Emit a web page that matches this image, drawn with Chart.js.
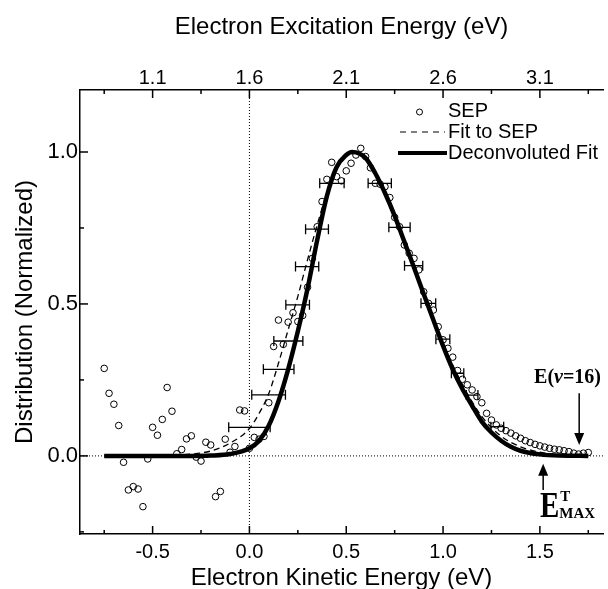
<!DOCTYPE html>
<html>
<head>
<meta charset="utf-8">
<script src="https://cdn.jsdelivr.net/npm/chart.js@4.4.1/dist/chart.umd.min.js"></script>
<style>
  html, body { margin: 0; padding: 0; background: #fff; }
  canvas { display: block; }
</style>
</head>
<body>
<canvas id="chart" width="608" height="589"></canvas>
<script>
// SEP data (kinetic energy in eV, normalized distribution)
const sepX = [-0.750, -0.725, -0.700, -0.675, -0.650, -0.625, -0.600, -0.575, -0.550, -0.525,
  -0.500, -0.475, -0.450, -0.425, -0.400, -0.375, -0.350, -0.325, -0.300, -0.275,
  -0.250, -0.225, -0.200, -0.175, -0.150, -0.125, -0.100, -0.075, -0.050, -0.025,
  0.000, 0.025, 0.050, 0.075, 0.100, 0.125, 0.150, 0.175, 0.200, 0.225,
  0.250, 0.275, 0.300, 0.325, 0.350, 0.375, 0.400, 0.425, 0.450, 0.475,
  0.500, 0.525, 0.550, 0.575, 0.600, 0.625, 0.650, 0.675, 0.700, 0.725,
  0.750, 0.775, 0.800, 0.825, 0.850, 0.875, 0.900, 0.925, 0.950, 0.975,
  1.000, 1.025, 1.050, 1.075, 1.100, 1.125, 1.150, 1.175, 1.200, 1.225,
  1.250, 1.275, 1.300, 1.325, 1.350, 1.375, 1.400, 1.425, 1.450, 1.475,
  1.500, 1.525, 1.550, 1.575, 1.600, 1.625, 1.650, 1.675, 1.700, 1.725, 1.750];
const sepY = [0.288, 0.206, 0.170, 0.100, -0.021, -0.112, -0.101, -0.109, -0.167, -0.010,
  0.094, 0.068, 0.120, 0.225, 0.147, 0.007, 0.021, 0.056, 0.066, -0.004,
  -0.017, 0.045, 0.036, -0.134, -0.117, 0.055, 0.012, 0.031, 0.151, 0.148,
  0.025, 0.061, 0.055, 0.064, 0.175, 0.360, 0.447, 0.367, 0.440, 0.471,
  0.442, 0.462, 0.555, 0.650, 0.754, 0.837, 0.910, 0.966, 0.919, 0.905,
  0.938, 0.963, 0.990, 1.012, 0.985, 0.948, 0.897, 0.894, 0.886, 0.850,
  0.785, 0.754, 0.694, 0.667, 0.650, 0.612, 0.540, 0.502, 0.480, 0.425,
  0.382, 0.354, 0.325, 0.281, 0.252, 0.234, 0.217, 0.195, 0.175, 0.140,
  0.118, 0.102, 0.091, 0.083, 0.075, 0.066, 0.058, 0.050, 0.044, 0.038,
  0.033, 0.029, 0.025, 0.022, 0.020, 0.017, 0.014, 0.009, 0.006, 0.009, 0.011];

// fit to SEP (dashed)
const fitX = [-0.75, -0.40, -0.30, -0.20, -0.10, 0.00, 0.05, 0.10, 0.15, 0.20, 0.25, 0.30, 0.35,
  0.40, 0.45, 0.50, 0.53, 0.60, 0.70, 0.80, 0.90, 1.00, 1.10, 1.20, 1.30, 1.40, 1.50, 1.60, 1.75];
const fitY = [0.000, 0.002, 0.006, 0.016, 0.042, 0.090, 0.140, 0.205, 0.305, 0.415, 0.525, 0.645, 0.760,
  0.865, 0.945, 0.990, 1.000, 0.980, 0.870, 0.710, 0.540, 0.370, 0.235, 0.130, 0.065, 0.030, 0.012, 0.004, 0.000];

// deconvoluted fit (thick)
const decX = [-0.75, -0.50, -0.30, -0.20, -0.10, 0.00, 0.05, 0.10, 0.15, 0.20, 0.25, 0.30, 0.35,
  0.40, 0.45, 0.50, 0.53, 0.60, 0.65, 0.70, 0.75, 0.80, 0.85, 0.90, 0.95, 1.00, 1.05, 1.10,
  1.15, 1.20, 1.25, 1.30, 1.35, 1.40, 1.50, 1.60, 1.75];
const decY = [0.000, 0.000, 0.000, 0.001, 0.006, 0.025, 0.050, 0.100, 0.180, 0.285, 0.410, 0.550, 0.710,
  0.855, 0.950, 0.990, 1.000, 0.980, 0.930, 0.865, 0.790, 0.705, 0.620, 0.533, 0.447, 0.362, 0.285, 0.220,
  0.165, 0.113, 0.077, 0.050, 0.030, 0.017, 0.005, 0.001, 0.000];

// horizontal error bars: centre x, y, half width (eV)
const errX = [0.000, 0.099, 0.151, 0.201, 0.249, 0.298, 0.349, 0.426, 0.673, 0.775, 0.848, 0.924, 0.999, 1.075, 1.150, 1.280];
const errY = [0.094, 0.201, 0.285, 0.378, 0.497, 0.623, 0.746, 0.897, 0.897, 0.752, 0.626, 0.502, 0.384, 0.272, 0.200, 0.096];
const errW = [0.107, 0.087, 0.079, 0.075, 0.061, 0.060, 0.059, 0.063, 0.060, 0.055, 0.047, 0.038, 0.036, 0.032, 0.030, 0.033];

// axis ticks
const xTicks = [-0.75, -0.5, -0.25, 0, 0.25, 0.5, 0.75, 1.0, 1.25, 1.5, 1.75];
const xLabels = [-0.5, 0, 0.5, 1.0, 1.5];
const topTicks = [0.85, 1.1, 1.35, 1.6, 1.85, 2.1, 2.35, 2.6, 2.85, 3.1, 3.35];
const topLabels = [1.1, 1.6, 2.1, 2.6, 3.1];
const yTicks = [-0.25, 0, 0.25, 0.5, 0.75, 1.0];
const yLabels = [0, 0.5, 1.0];

const X_MIN = -0.875, X_MAX = 1.826, Y_MIN = -0.257, Y_MAX = 1.204;
const OFFSET = 1.6; // excitation = kinetic + 1.6 eV

const SANS = "'Liberation Sans', Arial, sans-serif";
const SERIF = "'Liberation Serif', 'Times New Roman', serif";

const has = (list, v) => list.some(l => Math.abs(l - v) < 1e-6);
const pts = (xs, ys) => xs.map((x, i) => ({ x: x, y: ys[i] }));

const tickMarks = {
  id: 'tickMarks',
  afterDraw(chart) {
    const ctx = chart.ctx, a = chart.chartArea;
    ctx.save();
    ctx.strokeStyle = '#000';
    ctx.lineWidth = 1.5;
    ['x', 'x2', 'y'].forEach(id => {
      const s = chart.scales[id];
      s.ticks.forEach(t => {
        const len = t.label ? 8 : 4;
        const p = s.getPixelForValue(t.value);
        ctx.beginPath();
        if (id === 'x') { ctx.moveTo(p, a.bottom); ctx.lineTo(p, a.bottom - len); }
        else if (id === 'x2') { ctx.moveTo(p, a.top); ctx.lineTo(p, a.top + len); }
        else { ctx.moveTo(a.left, p); ctx.lineTo(a.left + len, p); }
        ctx.stroke();
      });
    });
    ctx.restore();
  }
};

const errorBars = {
  id: 'errorBars',
  afterDatasetsDraw(chart) {
    const ctx = chart.ctx, xs = chart.scales.x, ys = chart.scales.y;
    ctx.save();
    ctx.strokeStyle = '#000';
    ctx.lineWidth = 1.3;
    errX.forEach((x, i) => {
      const y = ys.getPixelForValue(errY[i]);
      const l = xs.getPixelForValue(x - errW[i]);
      const r = xs.getPixelForValue(x + errW[i]);
      ctx.beginPath();
      ctx.moveTo(l, y); ctx.lineTo(r, y);
      ctx.moveTo(l, y - 5); ctx.lineTo(l, y + 5);
      ctx.moveTo(r, y - 5); ctx.lineTo(r, y + 5);
      ctx.stroke();
    });
    ctx.restore();
  }
};

function arrow(ctx, x, y0, y1) {
  const dir = y1 > y0 ? 1 : -1;
  ctx.beginPath();
  ctx.moveTo(x, y0); ctx.lineTo(x, y1 - dir * 10);
  ctx.stroke();
  ctx.beginPath();
  ctx.moveTo(x, y1);
  ctx.lineTo(x - 5, y1 - dir * 12);
  ctx.lineTo(x + 5, y1 - dir * 12);
  ctx.closePath();
  ctx.fill();
}

const notes = {
  id: 'notes',
  afterDraw(chart) {
    const ctx = chart.ctx, xs = chart.scales.x, ys = chart.scales.y;
    ctx.save();
    ctx.fillStyle = '#000';
    ctx.strokeStyle = '#000';
    ctx.lineWidth = 1.5;
    // E(v=16)
    arrow(ctx, xs.getPixelForValue(1.703), ys.getPixelForValue(0.206), ys.getPixelForValue(0.036));
    const parts = [['E(', 'bold'], ['\u03BD', 'italic bold'], ['=16)', 'bold']];
    let w = 0;
    parts.forEach(p => { ctx.font = p[1] + ' 20px ' + SERIF; w += ctx.measureText(p[0]).width; });
    let tx = xs.getPixelForValue(1.643) - w / 2;
    const ty = ys.getPixelForValue(0.258);
    ctx.textBaseline = 'middle';
    parts.forEach(p => {
      ctx.font = p[1] + ' 20px ' + SERIF;
      ctx.fillText(p[0], tx, ty);
      tx += ctx.measureText(p[0]).width;
    });
    // E^T_MAX
    arrow(ctx, xs.getPixelForValue(1.517), ys.getPixelForValue(-0.112), ys.getPixelForValue(-0.026));
    const ex = xs.getPixelForValue(1.500), ey = ys.getPixelForValue(-0.200);
    ctx.textBaseline = 'alphabetic';
    ctx.font = 'bold 29px ' + SERIF;
    ctx.save();
    ctx.translate(ex, ey);
    ctx.scale(1, 1.2);
    ctx.fillText('E', 0, 0);
    ctx.restore();
    const ew = ctx.measureText('E').width;
    ctx.font = 'bold 15px ' + SERIF;
    ctx.fillText('T', ex + ew + 1, ey - 16);
    ctx.fillText('MAX', ex + ew, ey + 1);
    ctx.restore();
  }
};

const legendBox = {
  id: 'legendBox',
  afterDraw(chart) {
    const ctx = chart.ctx, a = chart.chartArea;
    const x0 = a.left + 318, x1 = a.left + 365, tx = a.left + 368;
    const rows = [a.top + 21, a.top + 42, a.top + 63];
    ctx.save();
    ctx.strokeStyle = '#000';
    ctx.fillStyle = '#000';
    ctx.lineWidth = 1;
    ctx.beginPath();
    ctx.arc((x0 + x1) / 2 - 2, rows[0] + 1, 3, 0, Math.PI * 2);
    ctx.stroke();
    ctx.setLineDash([6, 5]);
    ctx.lineWidth = 1.2;
    ctx.beginPath(); ctx.moveTo(x0 + 2, rows[1]); ctx.lineTo(x1, rows[1]); ctx.stroke();
    ctx.setLineDash([]);
    ctx.lineWidth = 4;
    ctx.beginPath(); ctx.moveTo(x0, rows[2]); ctx.lineTo(x1 + 2, rows[2]); ctx.stroke();
    ctx.font = '20px ' + SANS;
    ctx.textBaseline = 'middle';
    ctx.fillText('SEP', tx, rows[0]);
    ctx.fillText('Fit to SEP', tx, rows[1]);
    ctx.fillText('Deconvoluted Fit', tx, rows[2]);
    ctx.restore();
  }
};

new Chart(document.getElementById('chart'), {
  type: 'scatter',
  data: {
    datasets: [
      {
        label: 'zeroX',
        data: [{ x: 0, y: Y_MIN }, { x: 0, y: Y_MAX }],
        showLine: true, borderColor: '#000', borderWidth: 1, borderDash: [1, 2], pointRadius: 0
      },
      {
        label: 'zeroY',
        data: [{ x: X_MIN, y: 0 }, { x: X_MAX, y: 0 }],
        showLine: true, borderColor: '#000', borderWidth: 1, borderDash: [1, 2], pointRadius: 0
      },
      {
        label: 'Fit to SEP',
        data: pts(fitX, fitY),
        showLine: true, borderColor: '#000', borderWidth: 1.3, borderDash: [6, 4],
        pointRadius: 0, cubicInterpolationMode: 'monotone'
      },
      {
        label: 'Deconvoluted Fit',
        data: pts(decX, decY),
        showLine: true, borderColor: '#000', borderWidth: 4.5,
        pointRadius: 0, cubicInterpolationMode: 'monotone', borderCapStyle: 'butt'
      },
      {
        label: 'SEP',
        data: pts(sepX, sepY),
        showLine: false, pointRadius: 3.3, pointBorderWidth: 1,
        pointBorderColor: '#000', pointBackgroundColor: 'rgba(255,255,255,0)'
      }
    ]
  },
  options: {
    responsive: false,
    devicePixelRatio: 1,
    animation: false,
    layout: { padding: 0 },
    plugins: { legend: { display: false }, tooltip: { enabled: false } },
    scales: {
      x: {
        type: 'linear', position: 'bottom', min: X_MIN, max: X_MAX,
        grid: { display: false, drawTicks: false },
        border: { display: true, color: '#000', width: 1.5 },
        afterBuildTicks: s => { s.ticks = xTicks.map(v => ({ value: v })); },
        afterFit: s => { s.height = 55; },
        ticks: {
          autoSkip: false, maxRotation: 0, padding: 6, color: '#000',
          font: { family: SANS, size: 20 },
          callback: v => has(xLabels, v) ? v.toFixed(1) : ''
        },
        title: {
          display: true, text: 'Electron Kinetic Energy (eV)', color: '#000',
          font: { family: SANS, size: 24, lineHeight: 1 }, padding: { top: 0, bottom: -1 }
        }
      },
      x2: {
        type: 'linear', position: 'top', display: true,
        min: X_MIN + OFFSET, max: X_MAX + OFFSET,
        grid: { display: false, drawTicks: false },
        border: { display: true, color: '#000', width: 1.5 },
        afterBuildTicks: s => { s.ticks = topTicks.map(v => ({ value: v })); },
        afterFit: s => { s.height = 90; },
        ticks: {
          autoSkip: false, maxRotation: 0, padding: 0, color: '#000',
          font: { family: SANS, size: 20 },
          callback: v => has(topLabels, v) ? v.toFixed(1) : ''
        },
        title: {
          display: true, text: 'Electron Excitation Energy (eV)', color: '#000',
          font: { family: SANS, size: 24, lineHeight: 1 }, padding: { top: 15, bottom: 0 }
        }
      },
      y: {
        type: 'linear', min: Y_MIN, max: Y_MAX,
        grid: { display: false, drawTicks: false },
        border: { display: true, color: '#000', width: 1.5 },
        afterBuildTicks: s => { s.ticks = yTicks.map(v => ({ value: v })); },
        afterFit: s => { s.width = 80; },
        ticks: {
          autoSkip: false, padding: 2, color: '#000',
          font: { family: SANS, size: 22 },
          callback: v => has(yLabels, v) ? v.toFixed(1) : ''
        },
        title: {
          display: true, text: 'Distribution (Normalized)', color: '#000',
          font: { family: SANS, size: 24, lineHeight: 1 }, padding: { top: 13, bottom: 0 }
        }
      }
    }
  },
  plugins: [tickMarks, errorBars, notes, legendBox]
});
</script>
</body>
</html>
